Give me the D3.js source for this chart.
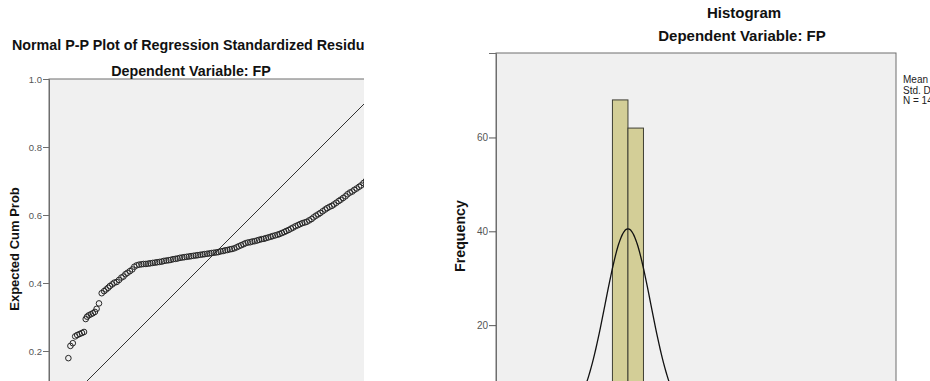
<!DOCTYPE html>
<html>
<head>
<meta charset="utf-8">
<script src="https://cdn.jsdelivr.net/npm/d3@7"></script>
<style>
  body { margin: 0; background: #fff; }
  svg { display: block; font-family: Arial, 'Liberation Sans', sans-serif; }
</style>
</head>
<body>
<script>
const ppObserved = [
  0.057, 0.063, 0.070, 0.077, 0.083, 0.090, 0.097, 0.103, 0.108, 0.112,
  0.117, 0.123, 0.129, 0.135, 0.140, 0.147, 0.155, 0.162, 0.168, 0.174,
  0.179, 0.186, 0.192, 0.199, 0.206, 0.213, 0.219, 0.225, 0.231, 0.238,
  0.245, 0.251, 0.258, 0.265, 0.272, 0.278, 0.285, 0.292, 0.298, 0.305,
  0.312, 0.318, 0.325, 0.332, 0.338, 0.345, 0.352, 0.358, 0.365, 0.372,
  0.378, 0.385, 0.392, 0.398, 0.405, 0.412, 0.418, 0.425, 0.432, 0.438,
  0.445, 0.452, 0.458, 0.465, 0.472, 0.478, 0.485, 0.492, 0.498, 0.505,
  0.512, 0.518, 0.525, 0.532, 0.538, 0.545, 0.552, 0.558, 0.565, 0.572,
  0.578, 0.585, 0.592, 0.598, 0.605, 0.612, 0.618, 0.625, 0.632, 0.638,
  0.645, 0.652, 0.658, 0.665, 0.672, 0.678, 0.685, 0.692, 0.698, 0.705,
  0.712, 0.718, 0.725, 0.732, 0.738, 0.745, 0.752, 0.758, 0.765, 0.772,
  0.778, 0.785, 0.792, 0.798, 0.805, 0.812, 0.818, 0.825, 0.832, 0.838,
  0.845, 0.852, 0.858, 0.865, 0.872, 0.878, 0.885, 0.892, 0.898, 0.905,
  0.912, 0.918, 0.925, 0.932, 0.938, 0.945, 0.952, 0.958
];
const ppExpected = [
  0.179, 0.215, 0.223, 0.243, 0.247, 0.250, 0.253, 0.256, 0.294, 0.301,
  0.305, 0.308, 0.311, 0.315, 0.324, 0.340, 0.370, 0.376, 0.381, 0.386,
  0.391, 0.396, 0.401, 0.403, 0.409, 0.416, 0.419, 0.426, 0.430, 0.435,
  0.440, 0.448, 0.452, 0.454, 0.455, 0.456, 0.456, 0.457, 0.458, 0.459,
  0.460, 0.461, 0.462, 0.463, 0.465, 0.466, 0.467, 0.468, 0.470, 0.471,
  0.472, 0.474, 0.475, 0.476, 0.477, 0.478, 0.479, 0.480, 0.481, 0.482,
  0.483, 0.484, 0.485, 0.486, 0.487, 0.488, 0.489, 0.490, 0.491, 0.493,
  0.494, 0.496, 0.497, 0.499, 0.500, 0.502, 0.505, 0.508, 0.511, 0.514,
  0.517, 0.519, 0.520, 0.522, 0.523, 0.525, 0.527, 0.529, 0.530, 0.532,
  0.534, 0.536, 0.538, 0.540, 0.542, 0.544, 0.547, 0.550, 0.553, 0.556,
  0.560, 0.563, 0.567, 0.570, 0.573, 0.576, 0.578, 0.580, 0.584, 0.588,
  0.593, 0.598, 0.602, 0.606, 0.611, 0.616, 0.620, 0.624, 0.627, 0.631,
  0.636, 0.641, 0.645, 0.650, 0.655, 0.661, 0.666, 0.669, 0.674, 0.678,
  0.683, 0.687, 0.694, 0.700, 0.706, 0.713, 0.722, 0.733
];
const ppTicks = [0.2, 0.4, 0.6, 0.8, 1.0];

// histogram of standardized residuals
const histEdges = [-0.675, 0, 0.675];
const histCounts = [68, 62];
const histTicks = [20, 40, 60];
const residMean = 0;
const residSd = 0.99;
const residN = 149;
const legendLines = ['Mean = 6.09E-16', 'Std. Dev. = 0.997', 'N = 149'];

const WIDTH = 930;
const HEIGHT = 381;

const svg = d3.select('body')
  .append('svg')
  .attr('width', WIDTH)
  .attr('height', HEIGHT);

svg.append('defs')
  .append('clipPath')
  .attr('id', 'left-clip')
  .append('rect')
  .attr('x', 0).attr('y', 0)
  .attr('width', 364).attr('height', HEIGHT);

// ---------- left: P-P plot ----------
const left = svg.append('g').attr('clip-path', 'url(#left-clip)');

const xPP = d3.scaleLinear().domain([0, 1]).range([49, 389]);
const yPP = d3.scaleLinear().domain([0, 1]).range([419, 79]);

left.append('rect')
  .attr('x', xPP(0)).attr('y', yPP(1))
  .attr('width', xPP(1) - xPP(0))
  .attr('height', yPP(0) - yPP(1))
  .attr('fill', '#f0f0f0')
  .attr('stroke', '#6e6e6e')
  .attr('stroke-width', 1);

const yAxisPP = left.append('g')
  .attr('transform', `translate(${xPP(0)},0)`)
  .call(d3.axisLeft(yPP).tickValues(ppTicks).tickFormat(d3.format('.1f')).tickSize(6).tickPadding(1));
yAxisPP.select('.domain').attr('stroke', '#6e6e6e');
yAxisPP.selectAll('.tick line').attr('stroke', '#6e6e6e');
yAxisPP.selectAll('.tick text')
  .attr('fill', '#555')
  .style('font-size', '9.5px')
  .style('font-family', 'Arial, "Liberation Sans", sans-serif');

left.append('line')
  .attr('x1', xPP(0)).attr('y1', yPP(0))
  .attr('x2', xPP(1)).attr('y2', yPP(1))
  .attr('stroke', '#333')
  .attr('stroke-width', 1);

left.selectAll('.pp-point')
  .data(ppObserved.map((d, i) => [d, ppExpected[i]]))
  .join('circle')
  .attr('class', 'pp-point')
  .attr('cx', (d) => xPP(d[0]))
  .attr('cy', (d) => yPP(d[1]))
  .attr('r', 2.8)
  .attr('fill', 'none')
  .attr('stroke', '#262626')
  .attr('stroke-width', 1);

left.append('text')
  .attr('x', 12).attr('y', 49.5)
  .attr('font-size', 14.3).attr('font-weight', 'bold').attr('fill', '#111')
  .text('Normal P-P Plot of Regression Standardized Residual');

left.append('text')
  .attr('x', 191).attr('y', 75.5)
  .attr('text-anchor', 'middle')
  .attr('font-size', 14.3).attr('font-weight', 'bold').attr('fill', '#111')
  .text('Dependent Variable: FP');

left.append('text')
  .attr('transform', `translate(19,${(yPP(0) + yPP(1)) / 2}) rotate(-90)`)
  .attr('text-anchor', 'middle')
  .attr('font-size', 13).attr('font-weight', 'bold').attr('fill', '#111')
  .text('Expected Cum Prob');

// ---------- right: histogram ----------
const right = svg.append('g');

const xH = d3.scaleLinear().domain([-5.74, 11.66]).range([496, 896]);
const yH = d3.scaleLinear().domain([0, 78]).range([419, 53]);

right.append('rect')
  .attr('x', xH.range()[0]).attr('y', yH(78))
  .attr('width', xH.range()[1] - xH.range()[0])
  .attr('height', yH(0) - yH(78))
  .attr('fill', '#f0f0f0')
  .attr('stroke', '#6e6e6e')
  .attr('stroke-width', 1);

const yAxisH = right.append('g')
  .attr('transform', `translate(${xH.range()[0]},0)`)
  .call(d3.axisLeft(yH).tickValues(histTicks).tickSize(7).tickPadding(1));
yAxisH.select('.domain').attr('stroke', '#6e6e6e');
yAxisH.selectAll('.tick line').attr('stroke', '#555');
yAxisH.selectAll('.tick text')
  .attr('fill', '#555')
  .style('font-size', '10px')
  .style('font-family', 'Arial, "Liberation Sans", sans-serif');

right.selectAll('.hist-bar')
  .data(histCounts.map((c, i) => ({ x0: histEdges[i], x1: histEdges[i + 1], c })))
  .join('rect')
  .attr('class', 'hist-bar')
  .attr('x', (d) => xH(d.x0))
  .attr('y', (d) => yH(d.c))
  .attr('width', (d) => xH(d.x1) - xH(d.x0))
  .attr('height', (d) => yH(0) - yH(d.c))
  .attr('fill', '#d3ce97')
  .attr('stroke', '#3f3f34')
  .attr('stroke-width', 1);

// fitted normal curve
const binW = histEdges[1] - histEdges[0];
const curveX = d3.range(-4, 4.001, 0.05);
const normal = (x) =>
  (residN * binW / (residSd * Math.sqrt(2 * Math.PI))) *
  Math.exp(-((x - residMean) ** 2) / (2 * residSd * residSd));

right.append('path')
  .datum(curveX)
  .attr('d', d3.line().x((d) => xH(d)).y((d) => yH(normal(d))).curve(d3.curveBasis))
  .attr('fill', 'none')
  .attr('stroke', '#111')
  .attr('stroke-width', 1.3);

right.append('text')
  .attr('x', 744).attr('y', 17.5)
  .attr('text-anchor', 'middle')
  .attr('font-size', 15).attr('font-weight', 'bold').attr('fill', '#111')
  .text('Histogram');

right.append('text')
  .attr('x', 742).attr('y', 41)
  .attr('text-anchor', 'middle')
  .attr('font-size', 15).attr('font-weight', 'bold').attr('fill', '#111')
  .text('Dependent Variable: FP');

right.append('text')
  .attr('transform', `translate(465,236) rotate(-90)`)
  .attr('text-anchor', 'middle')
  .attr('font-size', 14.2).attr('font-weight', 'bold').attr('fill', '#111')
  .text('Frequency');

right.selectAll('.legend-line')
  .data(legendLines)
  .join('text')
  .attr('class', 'legend-line')
  .attr('x', 903)
  .attr('y', (d, i) => 83 + i * 10.5)
  .attr('font-size', 10)
  .attr('fill', '#222')
  .text((d) => d);
</script>
</body>
</html>
